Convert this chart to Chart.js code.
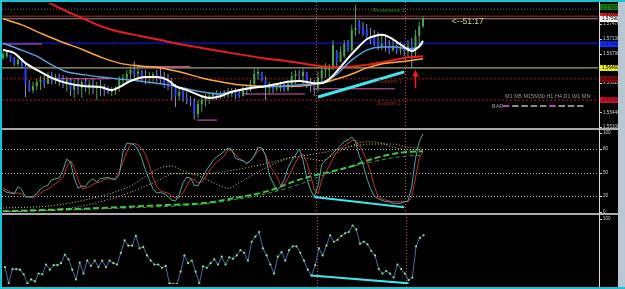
<!DOCTYPE html>
<html>
<head>
<meta charset="utf-8">
<script src="https://cdn.jsdelivr.net/npm/chart.js@4.4.1/dist/chart.umd.min.js"></script>
<style>
  html, body { margin:0; padding:0; background:#000; }
  #wrap { position:relative; width:625px; height:289px; background:#000; overflow:hidden; }
  .pane { position:absolute; left:0; width:625px; }
  .ln { position:absolute; }
</style>
</head>
<body>
<div id="wrap">
  <div class="pane" style="top:0;height:128px"><canvas id="cMain"></canvas></div>
  <div class="pane" style="top:130px;height:83px"><canvas id="cStoch"></canvas></div>
  <div class="pane" style="top:215px;height:73px"><canvas id="cOsc"></canvas></div>
  <div class="ln" style="left:0;top:128px;width:618px;height:2px;background:#a9a9a9"></div>
  <div class="ln" style="left:0;top:213px;width:618px;height:2px;background:#a9a9a9"></div>
  <div class="ln" style="left:599px;top:0;width:1px;height:289px;background:#d8d8d8"></div>
  <div class="ln" style="left:618px;top:0;width:7px;height:289px;background:#b9c7d3"></div>
  <div class="ln" style="left:0;top:0;width:625px;height:2px;background:#16c3d3"></div>
  <div class="ln" style="left:0;top:0;width:2px;height:289px;background:#16c3d3"></div>
  <div class="ln" style="left:0;top:287px;width:625px;height:2px;background:#16c3d3"></div>
</div>
<script>
// ================= DATA =================
const barHigh = [1.5683,1.5687,1.5676,1.5671,1.5669,1.5669,1.5660,1.5618,1.5614,1.5621,1.5627,1.5630,1.5637,1.5637,1.5632,1.5632,1.5630,1.5627,1.5623,1.5618,1.5623,1.5618,1.5623,1.5618,1.5623,1.5614,1.5618,1.5609,1.5604,1.5602,1.5604,1.5627,1.5632,1.5641,1.5650,1.5662,1.5646,1.5641,1.5641,1.5637,1.5637,1.5641,1.5648,1.5637,1.5632,1.5623,1.5609,1.5600,1.5600,1.5591,1.5581,1.5577,1.5572,1.5581,1.5586,1.5591,1.5591,1.5595,1.5593,1.5595,1.5600,1.5600,1.5600,1.5595,1.5604,1.5607,1.5618,1.5646,1.5646,1.5637,1.5627,1.5614,1.5609,1.5611,1.5614,1.5614,1.5618,1.5637,1.5641,1.5641,1.5646,1.5637,1.5623,1.5618,1.5637,1.5650,1.5657,1.5655,1.5710,1.5687,1.5696,1.5710,1.5710,1.5745,1.5791,1.5756,1.5752,1.5747,1.5738,1.5733,1.5729,1.5724,1.5719,1.5710,1.5710,1.5706,1.5706,1.5701,1.5710,1.5715,1.5733,1.5752,1.5765];
const barLow = [1.5664,1.5669,1.5660,1.5650,1.5650,1.5646,1.5579,1.5591,1.5588,1.5595,1.5595,1.5600,1.5609,1.5609,1.5609,1.5604,1.5600,1.5591,1.5581,1.5577,1.5584,1.5577,1.5591,1.5584,1.5586,1.5572,1.5581,1.5581,1.5586,1.5581,1.5584,1.5591,1.5604,1.5609,1.5618,1.5623,1.5618,1.5614,1.5609,1.5609,1.5614,1.5614,1.5609,1.5600,1.5595,1.5572,1.5556,1.5572,1.5568,1.5563,1.5558,1.5527,1.5531,1.5545,1.5558,1.5563,1.5572,1.5572,1.5575,1.5577,1.5577,1.5579,1.5575,1.5577,1.5581,1.5584,1.5591,1.5604,1.5618,1.5614,1.5572,1.5586,1.5588,1.5591,1.5591,1.5591,1.5591,1.5600,1.5609,1.5614,1.5609,1.5600,1.5591,1.5581,1.5591,1.5609,1.5623,1.5614,1.5641,1.5650,1.5660,1.5669,1.5683,1.5683,1.5719,1.5724,1.5719,1.5715,1.5701,1.5696,1.5687,1.5687,1.5683,1.5678,1.5683,1.5678,1.5676,1.5673,1.5669,1.5646,1.5669,1.5699,1.5738];
const barOpen = [1.5669,1.5673,1.5676,1.5669,1.5655,1.5664,1.5650,1.5609,1.5595,1.5604,1.5614,1.5618,1.5609,1.5630,1.5616,1.5625,1.5620,1.5609,1.5618,1.5595,1.5609,1.5600,1.5614,1.5604,1.5609,1.5600,1.5604,1.5600,1.5600,1.5591,1.5595,1.5600,1.5618,1.5623,1.5632,1.5641,1.5632,1.5637,1.5627,1.5623,1.5627,1.5632,1.5627,1.5618,1.5609,1.5604,1.5600,1.5581,1.5591,1.5577,1.5572,1.5568,1.5540,1.5563,1.5572,1.5577,1.5581,1.5586,1.5581,1.5586,1.5591,1.5586,1.5591,1.5588,1.5581,1.5600,1.5595,1.5609,1.5632,1.5637,1.5618,1.5600,1.5604,1.5598,1.5600,1.5609,1.5595,1.5609,1.5627,1.5632,1.5627,1.5637,1.5614,1.5604,1.5600,1.5623,1.5641,1.5641,1.5646,1.5683,1.5660,1.5673,1.5706,1.5687,1.5733,1.5752,1.5738,1.5733,1.5719,1.5715,1.5701,1.5696,1.5696,1.5692,1.5687,1.5696,1.5687,1.5692,1.5683,1.5696,1.5687,1.5719,1.5742];
const barClose = [1.5678,1.5683,1.5664,1.5655,1.5664,1.5650,1.5609,1.5595,1.5604,1.5614,1.5618,1.5609,1.5627,1.5616,1.5625,1.5620,1.5609,1.5618,1.5595,1.5609,1.5600,1.5614,1.5604,1.5609,1.5600,1.5604,1.5600,1.5595,1.5591,1.5595,1.5600,1.5618,1.5623,1.5632,1.5641,1.5632,1.5637,1.5627,1.5623,1.5627,1.5632,1.5627,1.5618,1.5609,1.5604,1.5600,1.5581,1.5591,1.5577,1.5572,1.5568,1.5540,1.5563,1.5572,1.5577,1.5581,1.5586,1.5581,1.5586,1.5591,1.5586,1.5591,1.5584,1.5579,1.5600,1.5595,1.5609,1.5632,1.5637,1.5618,1.5600,1.5604,1.5598,1.5600,1.5604,1.5595,1.5609,1.5627,1.5632,1.5627,1.5637,1.5614,1.5604,1.5600,1.5623,1.5641,1.5650,1.5646,1.5699,1.5660,1.5683,1.5701,1.5687,1.5733,1.5738,1.5733,1.5724,1.5719,1.5710,1.5701,1.5696,1.5701,1.5692,1.5687,1.5696,1.5687,1.5692,1.5683,1.5696,1.5683,1.5719,1.5742,1.5759];

// moving averages: [bar, price]
const maWhite = [[0,1.5687],[3,1.5680],[6,1.5657],[10,1.5637],[13,1.5623],[17,1.5611],[22,1.5604],[26,1.5602],[29,1.5595],[31,1.5602],[34,1.5616],[38,1.5625],[41,1.5625],[44,1.5618],[46,1.5604],[49,1.5595],[53,1.5581],[55,1.5577],[58,1.5581],[61,1.5591],[66,1.5600],[70,1.5604],[73,1.5609],[76,1.5614],[79,1.5616],[83,1.5611],[85,1.5611],[87,1.5620],[90,1.5648],[93,1.5678],[95,1.5696],[97,1.5712],[99,1.5719],[101,1.5722],[103,1.5717],[105,1.5706],[107,1.5694],[109,1.5685],[111,1.5696],[112,1.5708]];
const maBlue = [[0,1.5703],[4,1.5690],[9,1.5673],[13,1.5653],[17,1.5637],[22,1.5630],[26,1.5625],[34,1.5618],[44,1.5607],[53,1.5591],[58,1.5586],[63,1.5595],[69,1.5602],[75,1.5604],[79,1.5607],[84,1.5611],[88,1.5625],[93,1.5664],[97,1.5687],[101,1.5694],[105,1.5694],[108,1.5690],[111,1.5694],[112,1.5703]];
const maOrange = [[0,1.5759],[5,1.5745],[10,1.5726],[15,1.5708],[21,1.5689],[26,1.5671],[31,1.5657],[37,1.5650],[42,1.5646],[47,1.5637],[53,1.5623],[58,1.5614],[63,1.5607],[69,1.5604],[74,1.5604],[79,1.5604],[85,1.5611],[88,1.5618],[93,1.5632],[97,1.5646],[101,1.5655],[106,1.5660],[112,1.5667]];
const maRed = [[0,1.5853],[11,1.5802],[15,1.5784],[21,1.5761],[26,1.5742],[31,1.5729],[37,1.5719],[42,1.5710],[47,1.5701],[53,1.5692],[61,1.5680],[69,1.5669],[77,1.5660],[85,1.5650],[91,1.5648],[97,1.5653],[102,1.5660],[107,1.5669],[112,1.5673]];
const trendMain = [[84,1.5579],[107,1.5637]];

// horizontal levels and short segments
const levelPrices = [1.5781, 1.5765, 1.5759, 1.5703, 1.5646, 1.5621, 1.5572];
const pinkSegments = [[-0.27,10.4,1.5701],[13.3,28.5,1.5621],[35.7,49.9,1.5649],[51.7,57.1,1.5526],[64,80.5,1.5586],[82.7,104.5,1.5598]];
const priceTicks = [1.5747, 1.5713, 1.5679, 1.5611, 1.5544, 1.5510];
const markerPrices = [1.5785, 1.5765, 1.5759, 1.5701, 1.5646, 1.5621, 1.5572];
const vLineBars = [83.5, 107.2];
const arrowBar = 110, arrowTip = 1.5641, arrowTail = 1.5600;
const chartTexts = ['Resistance 1', 'Support 1', 'Support 2', '<--51:17', 'M1 M5 M15M30 H1 H4 D1 W1 MN', 'BAR'];
const textAnchors = [[98.7,1.5777],[100,1.5614],[99.7,1.5565],[119.7,1.5752],[133.9,1.5581],[130.4,1.5558]];

// stochastic panel
const stochMain = [28,25,24,23,32,28,19,19,20,23,29,32,34,41,42,43,53,67,63,43,30,33,32,39,42,38,42,43,44,42,41,47,76,87,87,85,79,68,53,41,29,24,25,23,20,15,14,22,37,44,43,34,33,42,51,58,65,70,73,77,81,79,68,66,65,61,65,71,82,81,72,47,37,27,32,41,56,65,72,80,66,43,28,19,33,60,65,70,75,79,84,89,91,95,89,71,60,43,30,20,17,15,13,13,11,11,11,13,14,32,68,89,99];
const stochSignal = [30,28,25,24,24,23,20,19,18,20,24,27,29,33,36,39,44,57,65,56,41,30,30,32,35,37,38,41,42,42,43,51,63,76,85,87,85,80,73,60,43,32,27,25,24,20,18,18,24,33,42,41,37,38,44,52,58,63,67,71,79,77,73,68,65,62,65,71,77,80,73,60,52,46,34,35,43,53,63,71,73,63,47,29,23,41,50,58,68,76,80,84,87,90,91,84,76,65,51,33,20,17,15,14,13,13,13,13,13,19,43,68,76];
const stochSlowA = [[0,5],[13,8],[26,20],[34,33],[42,56],[45,58],[48,52],[53,44],[57,35],[60,30],[63,37],[67,48],[71,58],[75,66],[78,70],[81,68],[85,65],[88,72],[93,84],[97,89],[101,87],[104,82],[108,79],[112,79]];
const stochSlowB = [[0,0],[18,5],[26,13],[34,25],[41,39],[46,49],[53,48],[60,52],[69,60],[76,68],[85,75],[91,81],[98,86],[104,86],[108,82],[112,81]];
const stochLongA = [[0,1],[26,5],[44,9],[53,11],[61,17],[71,27],[79,41],[93,58],[99,68],[106,75],[112,77]];
const stochLongB = [[0,0],[26,4],[53,10],[61,15],[71,24],[79,35],[88,51],[98,63],[106,70],[112,72]];
const stochTrend = [[83,19],[107,6]];
const stochLevels = [80, 50, 20];
const stochTicks = [100, 80, 50, 20, 0];

// bottom oscillator panel
const oscValues = [26,1,23,23,22,15,1,7,4,16,15,30,22,29,29,32,45,38,22,7,33,16,36,28,36,26,36,26,36,32,30,48,67,59,59,74,55,57,44,36,30,30,25,28,1,0,0,19,44,32,36,19,1,27,25,32,38,30,42,30,41,39,44,52,48,36,65,73,80,55,44,30,16,42,49,36,52,58,58,48,36,22,13,29,55,44,59,75,65,68,74,78,80,90,84,62,65,61,51,44,23,16,20,16,10,30,23,16,6,10,58,71,75];
const oscTrend = [[82,13],[108,1]];
const oscTicks = [100];

// ================= HELPERS =================
const xMin = -0.267, xMax = 158.67;
const FONT = '"Liberation Sans", Arial, sans-serif';
const xy = pairs => pairs.map(([x, y]) => ({x, y}));
const seq = arr => arr.map((y, x) => ({x, y}));
const hseg = (a, b, p) => [{x: a, y: p}, {x: b, y: p}];
const isUp = i => barClose[i] >= barOpen[i];
const lineDs = (data, color, width, extra) => Object.assign({
  type: 'line', data, borderColor: color, borderWidth: width, pointRadius: 0,
  fill: false, tension: 0, spanGaps: true
}, extra || {});
const mono = {cubicInterpolationMode: 'monotone'};

function baseOptions(yMin, yMax, pad) {
  return {
    responsive: true, maintainAspectRatio: false, animation: false, events: [],
    layout: {padding: pad},
    plugins: {legend: {display: false}, tooltip: {enabled: false}},
    scales: {
      x: {type: 'linear', min: xMin, max: xMax, display: false, offset: false},
      y: {type: 'linear', min: yMin, max: yMax, display: false}
    }
  };
}

function drawVLines(chart) {
  const {ctx, scales: {x}} = chart;
  ctx.save();
  ctx.strokeStyle = '#b8486a';
  ctx.lineWidth = 1;
  ctx.setLineDash([1, 2]);
  for (const v of vLineBars) {
    const px = Math.round(x.getPixelForValue(v)) + 0.5;
    ctx.beginPath(); ctx.moveTo(px, 2); ctx.lineTo(px, chart.height); ctx.stroke();
  }
  ctx.restore();
}

function drawAxisLabels(chart, ticks, fmt) {
  const {ctx, scales: {y}} = chart;
  ctx.save();
  ctx.font = '4.6px ' + FONT;
  ctx.fillStyle = '#cfcfcf';
  ctx.textBaseline = 'middle';
  ctx.textAlign = 'left';
  for (const t of ticks) {
    const py = y.getPixelForValue(t);
    ctx.fillRect(600, Math.round(py), 2, 1);
    ctx.fillText(fmt(t), 603, py);
  }
  ctx.restore();
}

function drawHLevels(chart, levels) {
  const {ctx, chartArea: a, scales: {y}} = chart;
  ctx.save();
  ctx.strokeStyle = '#bdbdbd';
  ctx.lineWidth = 1;
  ctx.setLineDash([1, 2]);
  for (const v of levels) {
    const py = Math.round(y.getPixelForValue(v)) + 0.5;
    ctx.beginPath(); ctx.moveTo(a.left, py); ctx.lineTo(a.right, py); ctx.stroke();
  }
  ctx.restore();
}

// ================= MAIN PRICE PANEL =================
const levelStyles = [
  {c: '#6e6e6e', w: 1, d: [1, 2]},
  {c: '#a83030', w: 1, d: []},
  {c: '#a08a8a', w: 1, d: []},
  {c: '#0c108c', w: 2, d: []},
  {c: '#cfcf86', w: 1, d: []},
  {c: '#b01818', w: 1, d: [2, 2]},
  {c: '#c01c2c', w: 1, d: [2, 2]}
];
const markerStyles = [
  {bg: '#157a15', fg: '#0a2a0a'},
  {bg: '#d42020', fg: '#3a0000'},
  {bg: '#f4f4f4', fg: '#000000'},
  {bg: '#1030ff', fg: '#000040'},
  {bg: '#e8e820', fg: '#000000'},
  {bg: '#7a0a0a', fg: '#2a0000'},
  {bg: '#c8102a', fg: '#3a0000'}
];
const textStyles = [
  {c: '#1e8a1e', f: '5.5px ' + FONT},
  {c: '#9a2424', f: '5.5px ' + FONT},
  {c: '#9a2424', f: '5.5px ' + FONT},
  {c: '#d6d672', f: '8.5px ' + FONT},
  {c: '#9a9a9a', f: '5.5px ' + FONT},
  {c: '#9a9a9a', f: '5.5px ' + FONT}
];

const mainDatasets = [
  lineDs(xy(trendMain), '#3fe6f0', 3),
  lineDs(xy(maWhite), '#ffffff', 2, mono),
  lineDs(xy(maBlue), '#5a9ee6', 1.5, mono),
  lineDs(xy(maOrange), '#ffa43a', 1.5, mono),
  lineDs(xy(maRed), '#ee1c1c', 2, mono),
  {
    type: 'bar', data: barOpen.map((o, i) => ({x: i, y: [o, barClose[i]]})),
    grouped: false, barThickness: 2, maxBarThickness: 2, minBarLength: 1, inflateAmount: 0, borderWidth: 0,
    backgroundColor: c => isUp(c.dataIndex) ? '#49a549' : '#2244ff'
  },
  {
    type: 'bar', data: barLow.map((l, i) => ({x: i, y: [l, barHigh[i]]})),
    grouped: false, barThickness: 1, maxBarThickness: 1, minBarLength: 1, inflateAmount: 0, borderWidth: 0,
    backgroundColor: c => isUp(c.dataIndex) ? '#4aa24a' : '#8a8ab4'
  }
];
pinkSegments.forEach(([a, b, p]) => mainDatasets.push(lineDs(hseg(a, b, p), '#e056b0', 1)));
levelPrices.forEach((p, i) => mainDatasets.push(lineDs(hseg(xMin, xMax, p), levelStyles[i].c, levelStyles[i].w, {borderDash: levelStyles[i].d})));

const mainPlugin = {
  id: 'mainDeco',
  beforeDatasetsDraw(chart) { drawVLines(chart); },
  afterDatasetsDraw(chart) {
    const {ctx, scales: {x, y}} = chart;
    ctx.save();
    // texts
    ctx.textBaseline = 'middle';
    ctx.textAlign = 'left';
    chartTexts.forEach((t, i) => {
      ctx.font = textStyles[i].f;
      ctx.fillStyle = textStyles[i].c;
      ctx.fillText(t, x.getPixelForValue(textAnchors[i][0]), y.getPixelForValue(textAnchors[i][1]));
    });
    // BAR dashes
    const by = Math.round(y.getPixelForValue(textAnchors[5][1]));
    for (let k = 0; k < 9; k++) {
      const x0 = x.getPixelForValue(133.3 + k * 2.47);
      ctx.fillStyle = (k === 0 || k === 5) ? '#c83cc8' : '#8c8c8c';
      ctx.fillRect(x0, by - 1, 6.5, 2);
    }
    // arrow
    const ax = x.getPixelForValue(arrowBar);
    const tipY = y.getPixelForValue(arrowTip), tailY = y.getPixelForValue(arrowTail);
    ctx.strokeStyle = '#ff1a1a'; ctx.fillStyle = '#ff1a1a'; ctx.lineWidth = 1.5;
    ctx.beginPath(); ctx.moveTo(ax, tailY); ctx.lineTo(ax, tipY + 5); ctx.stroke();
    ctx.beginPath(); ctx.moveTo(ax - 3.2, tipY + 6.5); ctx.lineTo(ax + 3.2, tipY + 6.5); ctx.lineTo(ax, tipY); ctx.closePath(); ctx.fill();
    ctx.restore();
  },
  afterDraw(chart) {
    drawAxisLabels(chart, priceTicks, v => v.toFixed(5));
    const {ctx, scales: {y}} = chart;
    ctx.save();
    ctx.font = '4.6px ' + FONT;
    ctx.textBaseline = 'middle';
    markerPrices.forEach((p, i) => {
      const py = y.getPixelForValue(p);
      ctx.fillStyle = markerStyles[i].bg;
      ctx.fillRect(600, Math.round(py) - 3, 18, 6);
      ctx.fillStyle = markerStyles[i].fg;
      ctx.fillText(p.toFixed(5), 602, py);
    });
    ctx.restore();
  }
};

new Chart(document.getElementById('cMain'), {
  type: 'line',
  data: {datasets: mainDatasets},
  options: baseOptions(1.55101, 1.57953, {left: 2, right: 27, top: 3, bottom: 1}),
  plugins: [mainPlugin]
});

// ================= STOCHASTIC PANEL =================
new Chart(document.getElementById('cStoch'), {
  type: 'line',
  data: {datasets: [
    lineDs(xy(stochTrend), '#3fe6f0', 2),
    lineDs(seq(stochMain), '#4fa6a6', 1),
    lineDs(seq(stochSignal), '#c43030', 1),
    lineDs(xy(stochSlowA), '#d8c87a', 1, Object.assign({borderDash: [1, 2]}, mono)),
    lineDs(xy(stochSlowB), '#c8b870', 1, Object.assign({borderDash: [1, 2]}, mono)),
    lineDs(xy(stochLongA), '#3cc83c', 2, Object.assign({borderDash: [6, 3]}, mono)),
    lineDs(xy(stochLongB), '#3a9a3a', 1, Object.assign({borderDash: [4, 3]}, mono))
  ]},
  options: baseOptions(0, 100, {left: 2, right: 27, top: 3, bottom: 1}),
  plugins: [{
    id: 'stochDeco',
    beforeDatasetsDraw(chart) { drawHLevels(chart, stochLevels); drawVLines(chart); },
    afterDraw(chart) { drawAxisLabels(chart, stochTicks, v => String(v)); }
  }]
});

// ================= BOTTOM OSCILLATOR PANEL =================
new Chart(document.getElementById('cOsc'), {
  type: 'line',
  data: {datasets: [
    lineDs(xy(oscTrend), '#3fe6f0', 2),
    lineDs(seq(oscValues), '#4b6aa8', 1, {pointRadius: 1.1, pointBackgroundColor: '#86ee86', pointBorderWidth: 0})
  ]},
  options: baseOptions(0, 100, {left: 2, right: 27, top: 4, bottom: 0}),
  plugins: [{
    id: 'oscDeco',
    beforeDatasetsDraw(chart) { drawVLines(chart); },
    afterDraw(chart) { drawAxisLabels(chart, oscTicks, v => String(v)); }
  }]
});
</script>
</body>
</html>
